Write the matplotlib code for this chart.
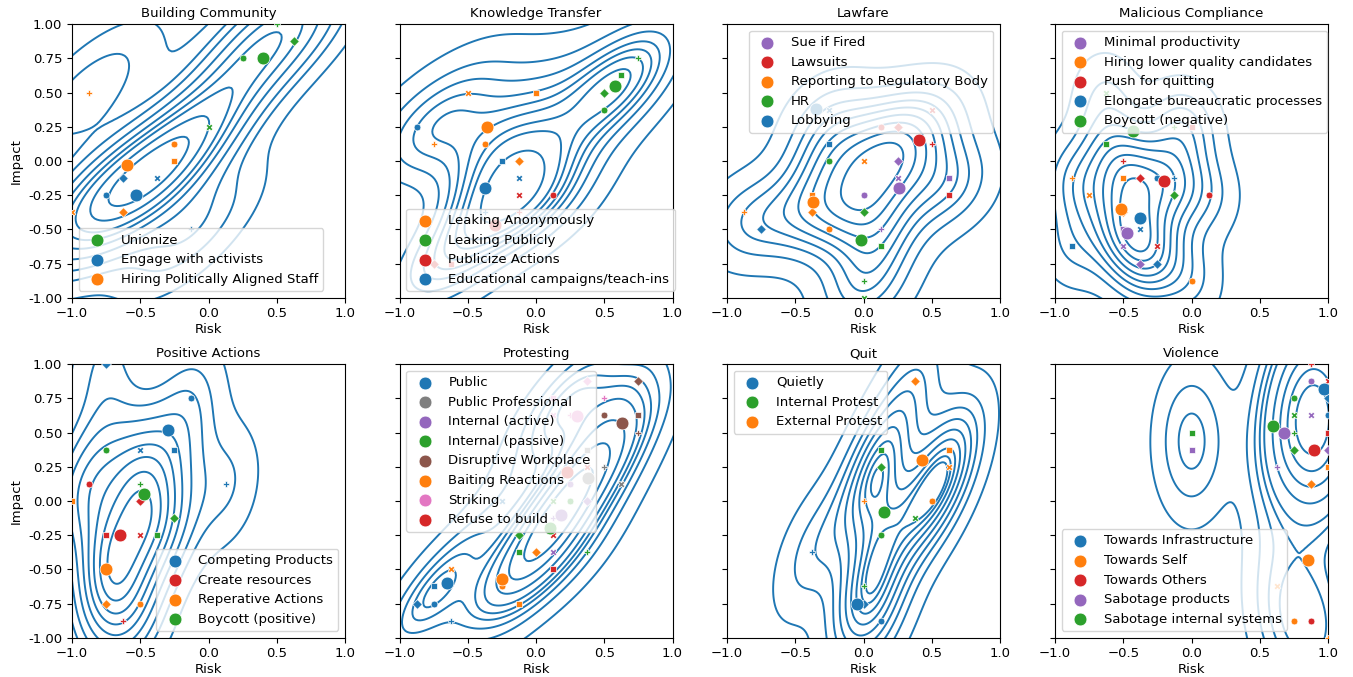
import matplotlib
matplotlib.use("Agg")
import matplotlib.pyplot as plt
import numpy as np
import seaborn as sns

plt.rcParams["font.size"] = 9.5

# ---- data: (category, marker code, risk, impact) for each response ----
# marker code: o circle, X cross, D diamond, P plus, s square
titles = ["Building Community", "Knowledge Transfer", "Lawfare", "Malicious Compliance",
          "Positive Actions", "Protesting", "Quit", "Violence"]

bc_cats = ["Unionize", "Engage with activists", "Hiring Politically Aligned Staff"]
bc_colors = ["C2", "C0", "C1"]
bc_means = [(0.40, 0.75), (-0.53, -0.25), (-0.60, -0.03)]
bc_points = [
    (0, "o", 0.25, 0.75), (0, "D", 0.625, 0.875), (0, "P", 0.5, 1.0), (0, "X", 0.0, 0.25),
    (2, "P", -0.875, 0.5), (2, "o", -0.25, 0.125), (2, "s", -0.25, 0.0), (2, "D", -0.625, -0.375),
    (2, "X", -1.0, -0.375),
    (1, "D", -0.625, -0.125), (1, "X", -0.375, -0.125), (1, "o", -0.75, -0.25), (1, "P", -0.125, -0.5),
]

kt_cats = ["Leaking Anonymously", "Leaking Publicly", "Publicize Actions", "Educational campaigns/teach-ins"]
kt_colors = ["C1", "C2", "C3", "C0"]
kt_means = [(-0.36, 0.25), (0.58, 0.55), (-0.30, -0.47), (-0.37, -0.20)]
kt_points = [
    (0, "X", -0.5, 0.5), (0, "s", 0.0, 0.5), (0, "o", -0.375, 0.125), (0, "P", -0.75, 0.125),
    (0, "D", -0.125, 0.0),
    (3, "o", -0.875, 0.25), (3, "s", -0.25, 0.0), (3, "X", -0.125, -0.125), (3, "P", -0.375, -0.375),
    (2, "X", -0.125, -0.25), (2, "o", 0.125, -0.25), (2, "P", -0.125, -0.375), (2, "D", -0.75, -0.75),
    (2, "s", -0.625, -0.75),
    (1, "o", 0.5, 0.375), (1, "D", 0.5, 0.5), (1, "s", 0.625, 0.625), (1, "P", 0.75, 0.75),
]

lw_cats = ["Sue if Fired", "Lawsuits", "Reporting to Regulatory Body", "HR", "Lobbying"]
lw_colors = ["C4", "C3", "C1", "C2", "C0"]
lw_means = [(0.26, -0.20), (0.41, 0.15), (-0.37, -0.30), (-0.02, -0.58), (-0.35, 0.38)]
lw_points = [
    (1, "o", 0.125, 0.25), (1, "D", 0.25, 0.25), (1, "X", 0.5, 0.375), (1, "P", 0.5, 0.125),
    (1, "s", 0.625, -0.25),
    (4, "X", -0.25, 0.375), (4, "s", -0.25, 0.125), (4, "D", -0.75, -0.5),
    (3, "o", -0.25, 0.0), (3, "D", 0.0, -0.375), (3, "s", 0.125, -0.625), (3, "P", 0.0, -0.875),
    (3, "X", 0.0, -1.0),
    (2, "X", 0.0, 0.0), (2, "s", -0.375, -0.25), (2, "D", -0.375, -0.375), (2, "P", -0.875, -0.375),
    (2, "o", -0.25, -0.5),
    (0, "D", 0.25, 0.0), (0, "X", 0.25, -0.125), (0, "o", 0.0, -0.25), (0, "s", 0.625, -0.125),
    (0, "P", 0.125, -0.5),
]

mc_cats = ["Minimal productivity", "Hiring lower quality candidates", "Push for quitting",
           "Elongate bureaucratic processes", "Boycott (negative)"]
mc_colors = ["C4", "C1", "C3", "C0", "C2"]
mc_means = [(-0.47, -0.53), (-0.52, -0.35), (-0.20, -0.15), (-0.38, -0.42), (-0.43, 0.22)]
mc_points = [
    (4, "X", -0.625, 0.5), (4, "P", -0.125, 0.25), (4, "s", -0.625, 0.125), (4, "D", -0.125, -0.25),
    (2, "s", 0.0, 0.25), (2, "P", -0.5, 0.0), (2, "D", -0.375, -0.125), (2, "o", 0.125, -0.25),
    (2, "X", -0.25, -0.625),
    (1, "P", -0.875, -0.125), (1, "s", -0.5, -0.125), (1, "X", -0.75, -0.25), (1, "D", -0.5, -0.375),
    (1, "o", 0.0, -0.875),
    (3, "o", -0.25, -0.125), (3, "P", -0.125, -0.125), (3, "X", -0.375, -0.5), (3, "s", -0.875, -0.625),
    (3, "D", -0.25, -0.75),
    (0, "s", -0.5, -0.5), (0, "X", -0.5, -0.625), (0, "D", -0.375, -0.75),
]

pa_cats = ["Competing Products", "Create resources", "Reperative Actions", "Boycott (positive)"]
pa_colors = ["C0", "C3", "C1", "C2"]
pa_means = [(-0.30, 0.52), (-0.65, -0.25), (-0.75, -0.50), (-0.47, 0.05)]
pa_points = [
    (0, "D", -0.75, 1.0), (0, "o", -0.125, 0.75), (0, "X", -0.5, 0.375), (0, "s", -0.25, 0.375),
    (0, "P", 0.125, 0.125),
    (3, "o", -0.75, 0.375), (3, "P", -0.5, 0.125), (3, "D", -0.25, -0.125), (3, "s", -0.375, -0.25),
    (1, "o", -0.875, 0.125), (1, "D", -0.5, 0.0), (1, "s", -0.75, -0.25), (1, "X", -0.5, -0.25),
    (1, "P", -0.625, -0.875),
    (2, "s", -1.0, 0.0), (2, "P", -0.75, -0.5), (2, "X", -0.75, -0.5), (2, "D", -0.75, -0.75),
    (2, "o", -0.5, -0.75),
]

pr_cats = ["Public", "Public Professional", "Internal (active)", "Internal (passive)",
           "Disruptive Workplace", "Baiting Reactions", "Striking", "Refuse to build"]
pr_colors = ["C0", "C7", "C4", "C2", "C5", "C1", "C6", "C3"]
pr_means = [(-0.65, -0.60), (0.38, 0.17), (0.18, -0.10), (0.10, -0.20),
            (0.63, 0.57), (-0.25, -0.57), (0.30, 0.62), (0.23, 0.21)]
pr_points = [
    (4, "D", 0.75, 0.875), (4, "o", 0.5, 0.625), (4, "s", 0.75, 0.625), (4, "P", 0.75, 0.5),
    (6, "D", 0.375, 0.875), (6, "P", 0.5, 0.75), (6, "X", 0.125, 0.625), (6, "P", 0.25, 0.625),
    (6, "s", 0.125, 0.75),
    (1, "s", 0.375, 0.375), (1, "P", 0.5, 0.25), (1, "X", 0.625, 0.125),
    (7, "X", 0.375, 0.25), (7, "X", 0.125, -0.25), (7, "s", 0.125, -0.5),
    (2, "o", 0.25, 0.125), (2, "D", 0.375, 0.0), (2, "P", 0.125, -0.125), (2, "X", 0.125, -0.375),
    (0, "X", -0.25, 0.0), (0, "s", -0.75, -0.625), (0, "D", -0.875, -0.75), (0, "o", -0.75, -0.75),
    (0, "P", -0.625, -0.875),
    (3, "X", 0.125, 0.0), (3, "o", 0.25, 0.0), (3, "D", -0.125, -0.25), (3, "s", -0.125, -0.375),
    (3, "P", 0.375, -0.375),
    (5, "D", 0.0, -0.375), (5, "X", -0.625, -0.5), (5, "P", -0.25, -0.625), (5, "o", -0.25, -0.625),
    (5, "s", -0.125, -0.75),
]

qu_cats = ["Quietly", "Internal Protest", "External Protest"]
qu_colors = ["C0", "C2", "C1"]
qu_means = [(-0.05, -0.75), (0.15, -0.08), (0.43, 0.30)]
qu_points = [
    (2, "D", 0.375, 0.875), (2, "s", 0.625, 0.375), (2, "X", 0.625, 0.25), (2, "P", 0.0, 0.0),
    (2, "o", 0.5, 0.0),
    (1, "s", 0.125, 0.375), (1, "D", 0.125, 0.25), (1, "X", 0.375, -0.125), (1, "o", 0.125, -0.25),
    (1, "P", 0.0, -0.625),
    (0, "P", -0.375, -0.375), (0, "D", 0.0, -0.75), (0, "o", 0.125, -0.875),
]

vi_cats = ["Towards Infrastructure", "Towards Self", "Towards Others", "Sabotage products",
           "Sabotage internal systems"]
vi_colors = ["C0", "C1", "C3", "C4", "C2"]
vi_means = [(0.97, 0.82), (0.85, -0.43), (0.90, 0.37), (0.68, 0.50), (0.60, 0.55)]
vi_points = [
    (2, "P", 0.875, 1.0), (2, "X", 1.0, 0.875), (2, "s", 1.0, 0.5), (2, "o", 0.875, -0.875),
    (3, "o", 0.875, 0.875), (3, "X", 0.875, 0.625), (3, "D", 1.0, 0.375), (3, "P", 0.625, 0.25),
    (3, "s", 0.0, 0.375),
    (0, "D", 1.0, 0.75), (0, "o", 1.0, 0.625),
    (4, "o", 0.75, 0.75), (4, "X", 0.75, 0.625), (4, "P", 0.75, 0.5), (4, "D", 0.75, 0.375),
    (4, "s", 0.0, 0.5),
    (1, "s", 1.0, 0.25), (1, "D", 0.875, 0.125), (1, "X", 0.625, -0.625), (1, "o", 0.75, -0.875),
    (1, "P", 1.0, -1.0),
]

panels = [
    (bc_cats, bc_colors, bc_means, bc_points, "lower left"),
    (kt_cats, kt_colors, kt_means, kt_points, "lower left"),
    (lw_cats, lw_colors, lw_means, lw_points, "upper right"),
    (mc_cats, mc_colors, mc_means, mc_points, "upper left"),
    (pa_cats, pa_colors, pa_means, pa_points, "lower right"),
    (pr_cats, pr_colors, pr_means, pr_points, "upper left"),
    (qu_cats, qu_colors, qu_means, qu_points, "upper left"),
    (vi_cats, vi_colors, vi_means, vi_points, "lower left"),
]

fig = plt.figure(figsize=(13.53, 6.77), dpi=100)
W, H = 1353.0, 677.0
lefts = [72, 399.5, 727, 1055]
bottoms = [297.7, 637.7]
aw, ah = 273.0, 273.5

for idx, (cats, colors, means, points, loc) in enumerate(panels):
    row, col = divmod(idx, 4)
    ax = fig.add_axes([lefts[col] / W, 1 - bottoms[row] / H, aw / W, ah / H])

    xs = np.array([p[2] for p in points])
    ys = np.array([p[3] for p in points])
    sns.kdeplot(x=xs, y=ys, ax=ax, color="C0", linewidths=1.4)

    for cat_i, mk, x, y in points:
        ax.scatter(x, y, s=24, marker=mk, color=colors[cat_i], edgecolor="white",
                   linewidth=0.5, zorder=3)
    for name, c, (mx, my) in zip(cats, colors, means):
        ax.scatter(mx, my, s=85, marker="o", color=c, edgecolor="white",
                   linewidth=0.5, zorder=3, label=name)

    ax.set_xlim(-1, 1)
    ax.set_ylim(-1, 1)
    ax.set_xticks([-1, -0.5, 0, 0.5, 1])
    ax.set_yticks(np.arange(-1, 1.01, 0.25))
    ax.set_title(titles[idx], fontsize=9.5, pad=5)
    ax.set_xlabel("Risk", labelpad=2)
    if col == 0:
        ax.set_ylabel("Impact")
        ax.set_yticklabels([f"{v:.2f}" for v in np.arange(-1, 1.01, 0.25)])
    else:
        ax.set_ylabel("")
        ax.set_yticklabels([])
    ax.legend(loc=loc, fontsize=9.5)

fig.savefig("out.png", dpi=100)
